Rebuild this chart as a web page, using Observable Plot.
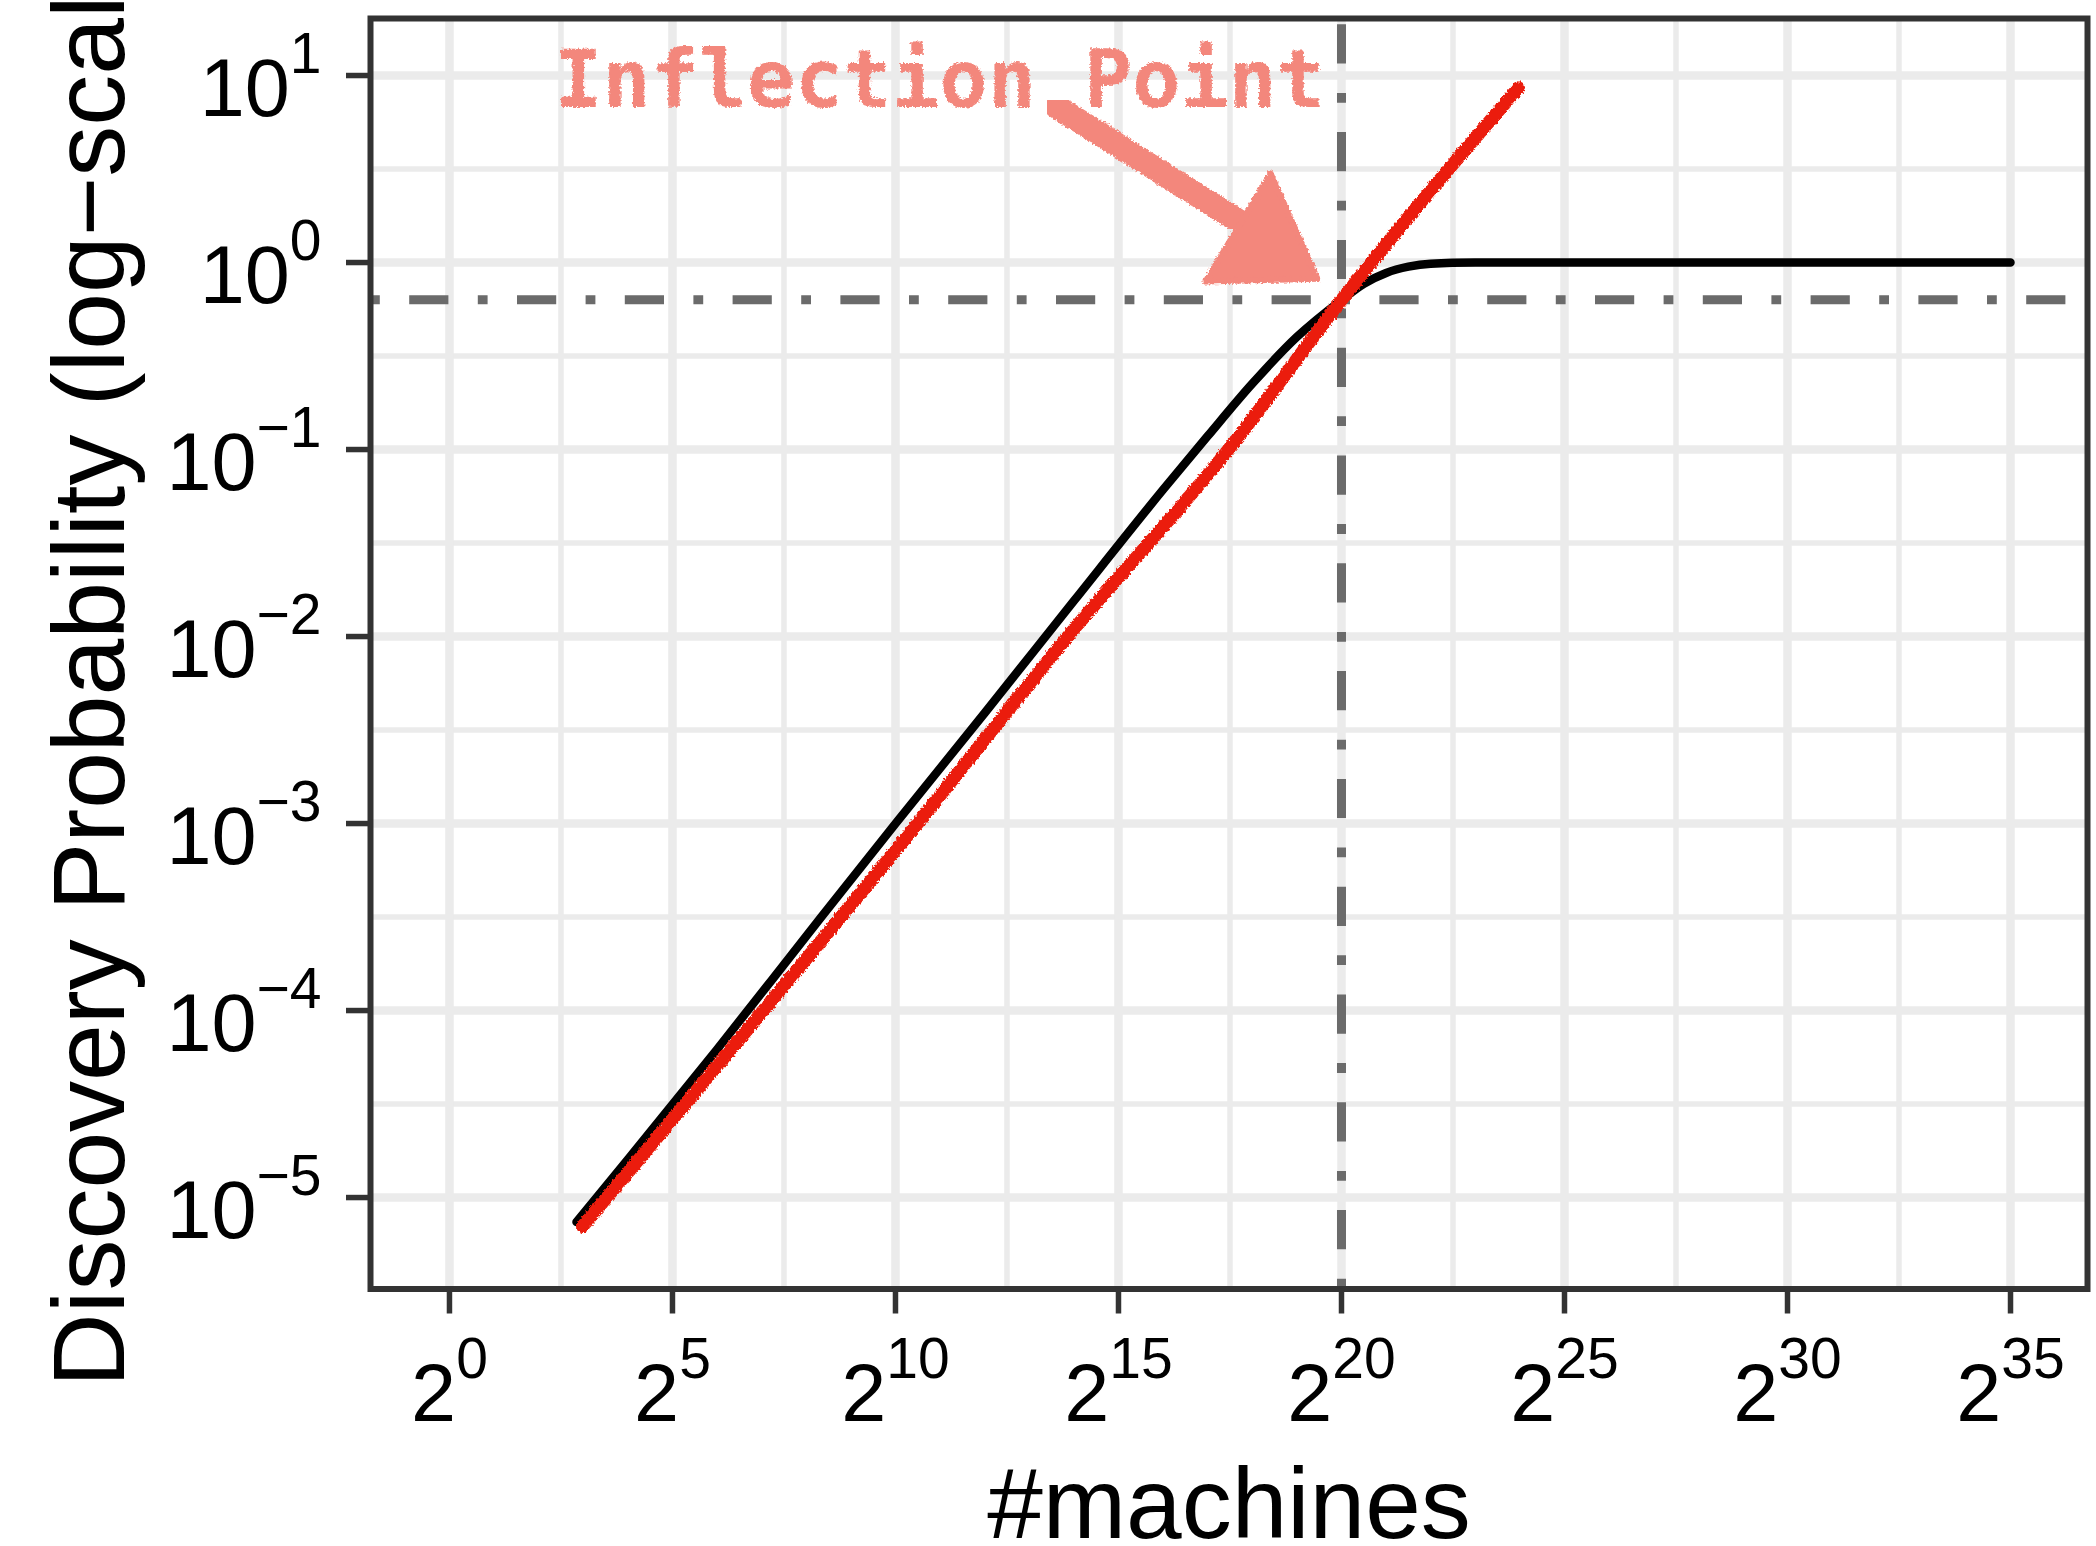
<!DOCTYPE html>
<html>
<head>
<meta charset="utf-8">
<script src="https://cdn.jsdelivr.net/npm/d3@7"></script>
<script src="https://cdn.jsdelivr.net/npm/@observablehq/plot@0.6"></script>
<style>
  html, body { margin: 0; padding: 0; background: #ffffff; }
  #chart svg { display: block; }
</style>
</head>
<body>
<div id="chart"></div>
<script>
// ---------------- data ----------------
const xTicks = [1, 32, 1024, 32768, 1048576, 33554432, 1073741824, 34359738368];
const xTickLabels = ["2^0", "2^5", "2^10", "2^15", "2^20", "2^25", "2^30", "2^35"];
const xMinorTicks = [5.657, 181.02, 5792.6, 185363.8, 5931641.6, 189812531, 6074000999];

const yTicks = [1e-5, 1e-4, 1e-3, 1e-2, 1e-1, 1, 10];
const yTickLabels = ["10^\u22125", "10^\u22124", "10^\u22123", "10^\u22122", "10^\u22121", "10^0", "10^1"];
const yMinorTicks = [3.162e-5, 3.162e-4, 3.162e-3, 3.162e-2, 0.3162, 3.162];

// black curve: #machines vs discovery probability
const machines = [7.2, 16, 64, 256, 1024, 4096, 16384, 65536, 131072, 262144, 524288,
  1048576, 1482910, 2097152, 2965820, 4194304, 8388608, 16777216, 34359738368];
const probability = [7.4e-6, 1.6e-5, 6.2e-5, 2.5e-4, 1.0e-3, 3.9e-3, 1.55e-2, 6.1e-2, 0.118, 0.225, 0.40,
  0.63, 0.77, 0.88, 0.95, 0.985, 0.999, 1.0, 1.0];

// hand-drawn red line
const redMachines = [7.9, 1440, 14900, 190000, 1048576, 16400000];
const redProbability = [7.0e-6, 1.0e-3, 1.0e-2, 0.105, 0.63, 8.6];

// inflection guides
const inflectionMachines = [1048576];
const inflectionProbability = [0.632];

// annotation
const annotationText = ["Inflection Point"];
const annotationX = [5.1];
const annotationY = [6.75];
const arrowShaftX = [12500, 218900];
const arrowShaftY = [6.82, 1.637];
const arrowHeadX = [348400, 126600, 721300, 348400];
const arrowHeadY = [2.99, 0.791, 0.820, 2.99];

const xTitle = "#machines";
const yTitle = "Discovery Probability (log\u2212scale)";

// ---------------- chart ----------------
const xDomain = [0.2931, 1.1368e11];
const yDomain = [3.243e-6, 20.18];

const black = machines.map((n, i) => ({n, p: probability[i]}));
const red = redMachines.map((n, i) => ({n, p: redProbability[i]}));
const shaft = arrowShaftX.map((x, i) => ({x, y: arrowShaftY[i]}));
const head = arrowHeadX.map((x, i) => ({x, y: arrowHeadY[i]}));

const grid = "#EBEBEB";
const guide = "#6b6b6b";
const salmon = "#F3877C";
const dash = "9.8,29.4,39.2,29.4";

const plot = Plot.plot({
  width: 2096,
  height: 1546,
  marginLeft: 370,
  marginRight: 9,
  marginTop: 18,
  marginBottom: 257.5,
  style: {fontFamily: "'Liberation Sans', Arial, Helvetica, sans-serif", background: "#ffffff", color: "#000"},
  x: {type: "log", base: 2, domain: xDomain},
  y: {type: "log", base: 10, domain: yDomain},
  marks: [
    Plot.ruleX(xMinorTicks, {stroke: grid, strokeWidth: 5.5}),
    Plot.ruleY(yMinorTicks, {stroke: grid, strokeWidth: 5.5}),
    Plot.ruleX(xTicks, {stroke: grid, strokeWidth: 8.5}),
    Plot.ruleY(yTicks, {stroke: grid, strokeWidth: 8.5}),
    Plot.line(black, {x: "n", y: "p", stroke: "#000", strokeWidth: 8.5, curve: "monotone-x"}),
    Plot.ruleY(inflectionProbability, {x1: xDomain[0], x2: xDomain[1], stroke: guide, strokeWidth: 9, strokeDasharray: dash}),
    Plot.ruleX(inflectionMachines, {y1: yDomain[0], y2: yDomain[1], stroke: guide, strokeWidth: 9, strokeDasharray: dash}),
    Plot.line(red, {x: "n", y: "p", stroke: "#EB1F0C", strokeWidth: 13, strokeLinecap: "round", curve: "monotone-x"}),
    Plot.line(shaft, {x: "x", y: "y", stroke: salmon, strokeWidth: 24, strokeLinecap: "round"}),
    Plot.line(head, {x: "x", y: "y", stroke: salmon, fill: salmon, strokeWidth: 6, strokeLinejoin: "round"}),
    Plot.text(annotationText, {x: annotationX, y: annotationY, text: d => d, textAnchor: "start", lineAnchor: "bottom",
      fontFamily: "'DejaVu Sans Mono', monospace", fontWeight: "bold", fontSize: 80, fill: salmon}),
    Plot.frame({stroke: "#333333", strokeWidth: 6}),
    Plot.axisX(xTicks, {tickSize: 25, tickFormat: () => "", label: null, stroke: "#333333", strokeWidth: 5.5}),
    Plot.axisY(yTicks, {tickSize: 24, tickFormat: () => "", label: null, stroke: "#333333", strokeWidth: 5.5}),
    Plot.text(xTickLabels, {x: xTicks, text: d => d, frameAnchor: "bottom", dy: 131.5, lineAnchor: "bottom",
      textAnchor: "middle", fontSize: 81, fill: "#000"}),
    Plot.text(yTickLabels, {y: yTicks, text: d => d, frameAnchor: "left", dx: -49, dy: 40, lineAnchor: "bottom",
      textAnchor: "end", fontSize: 81, fill: "#000"}),
    Plot.text([xTitle], {text: d => d, frameAnchor: "bottom", dy: 249, lineAnchor: "bottom", textAnchor: "middle", fontSize: 100, fill: "#000"}),
    Plot.text([yTitle], {text: d => d, frameAnchor: "left", dx: -247, dy: -8, rotate: -90, lineAnchor: "bottom", textAnchor: "middle", fontSize: 102, fill: "#000"})
  ]
});

// superscripts: "a^b" -> a with raised b
const NS = "http://www.w3.org/2000/svg";
plot.querySelectorAll("text").forEach(t => {
  const s = t.textContent;
  if (!s.includes("^")) return;
  const [base, exp] = s.split("^");
  t.textContent = "";
  const a = document.createElementNS(NS, "tspan");
  a.textContent = base;
  t.appendChild(a);
  const b = document.createElementNS(NS, "tspan");
  b.textContent = exp;
  b.setAttribute("font-size", "57");
  b.setAttribute("dy", "-43");
  t.appendChild(b);
});

// chalk-like texture for the hand-drawn annotations
const defs = document.createElementNS(NS, "defs");
defs.innerHTML = `<filter id="chalk" x="-5%" y="-5%" width="110%" height="110%">
  <feTurbulence type="fractalNoise" baseFrequency="0.45" numOctaves="2" seed="4" result="noise"/>
  <feDisplacementMap in="SourceGraphic" in2="noise" scale="5" xChannelSelector="R" yChannelSelector="G"/>
</filter>`;
plot.insertBefore(defs, plot.firstChild);
const lineGroups = plot.querySelectorAll('g[aria-label="line"]');
[1, 2, 3].forEach(i => { if (lineGroups[i]) lineGroups[i].setAttribute("filter", "url(#chalk)"); });
plot.querySelectorAll('g[aria-label="text"]').forEach(g => {
  if (g.textContent.includes("Inflection")) g.setAttribute("filter", "url(#chalk)");
});

document.getElementById("chart").appendChild(plot);
</script>
</body>
</html>
